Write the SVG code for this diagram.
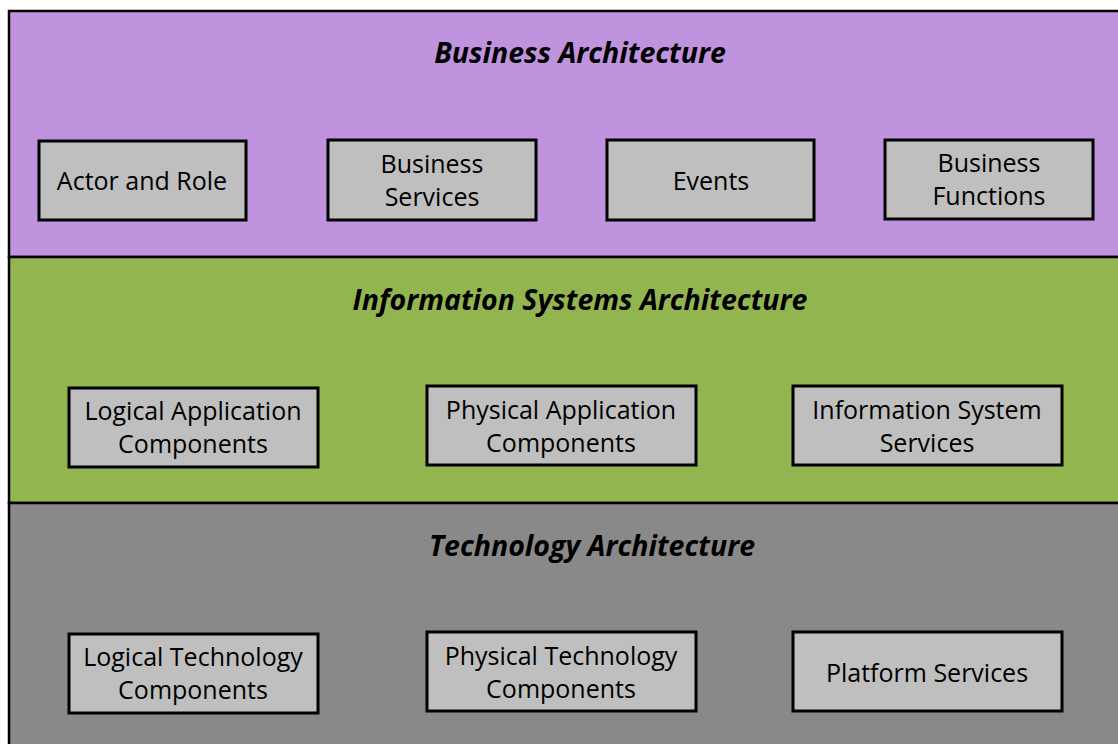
<svg xmlns="http://www.w3.org/2000/svg" width="1118" height="744" viewBox="0 0 1118 744">
<style>
.band{stroke:#000;stroke-width:2.5}
.box{fill:#BFBFBF;stroke:#000;stroke-width:3}
.t{font-family:"Open Sans","Liberation Sans",sans-serif;font-size:25px;fill:#000;text-anchor:middle}
.h{font-family:"Open Sans","Liberation Sans",sans-serif;font-size:28.5px;font-weight:bold;font-style:italic;fill:#000;text-anchor:middle}
</style>
<rect width="1118" height="744" fill="#fff"/>
<g id="business-layer">
<rect class="band" x="9" y="11" width="1120" height="246" fill="#C093DE"/>
<text class="h" x="580" y="63">Business Architecture</text>
</g>
<g id="is-layer">
<rect class="band" x="9" y="257" width="1120" height="246" fill="#93B550"/>
<text class="h" x="580" y="310">Information Systems Architecture</text>
</g>
<g id="tech-layer">
<rect class="band" x="9" y="503" width="1120" height="250" fill="#898989"/>
<text class="h" x="592" y="556">Technology Architecture</text>
</g>
<g id="connectors"></g>
<g id="actor-role"><rect class="box" x="39" y="141" width="207" height="79"/><text class="t" x="142" y="190">Actor and Role</text></g>
<g id="business-services"><rect class="box" x="328" y="140" width="208" height="80"/><text class="t" x="432" y="173">Business</text><text class="t" x="432" y="206">Services</text></g>
<g id="events"><rect class="box" x="607" y="140" width="207" height="80"/><text class="t" x="711" y="190">Events</text></g>
<g id="business-functions"><rect class="box" x="885" y="140" width="208" height="79"/><text class="t" x="989" y="172">Business</text><text class="t" x="989" y="205">Functions</text></g>
<g id="logical-app"><rect class="box" x="69" y="388" width="249" height="79"/><text class="t" x="193" y="420">Logical Application</text><text class="t" x="193" y="453">Components</text></g>
<g id="physical-app"><rect class="box" x="427" y="386" width="269" height="79"/><text class="t" x="561" y="419">Physical Application</text><text class="t" x="561" y="452">Components</text></g>
<g id="is-services"><rect class="box" x="793" y="386" width="269" height="79"/><text class="t" x="927" y="419">Information System</text><text class="t" x="927" y="452">Services</text></g>
<g id="logical-tech"><rect class="box" x="69" y="634" width="249" height="79"/><text class="t" x="193" y="666">Logical Technology</text><text class="t" x="193" y="699">Components</text></g>
<g id="physical-tech"><rect class="box" x="427" y="632" width="269" height="79"/><text class="t" x="561" y="665">Physical Technology</text><text class="t" x="561" y="698">Components</text></g>
<g id="platform-services"><rect class="box" x="793" y="632" width="269" height="79"/><text class="t" x="927" y="682">Platform Services</text></g>
</svg>
